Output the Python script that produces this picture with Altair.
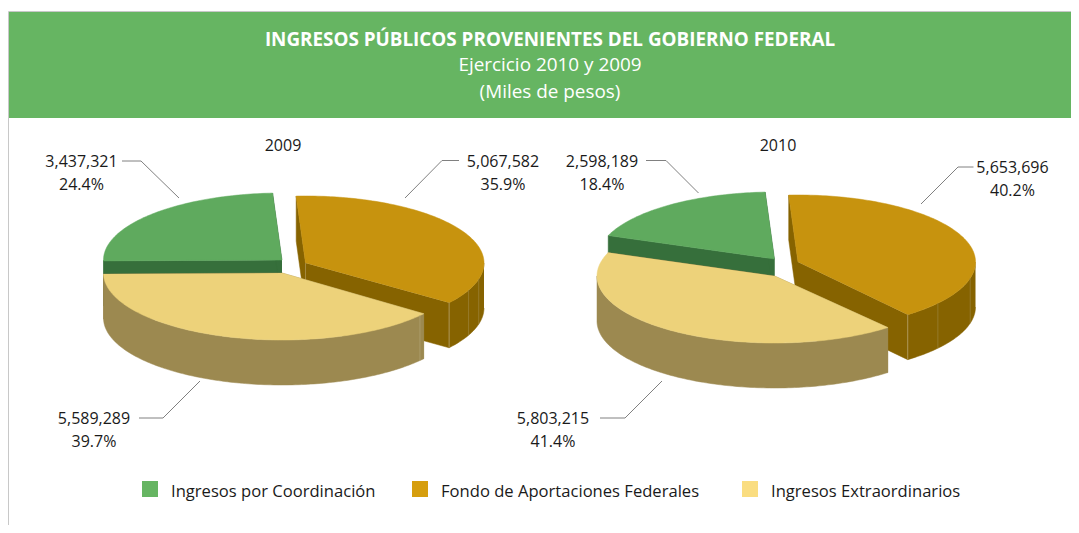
import math
import altair as alt
import pandas as pd

# ---- values ----
categories = ["Ingresos por Coordinación", "Fondo de Aportaciones Federales", "Ingresos Extraordinarios"]
years = ["2009", "2010"]
coordinacion = [3437321, 2598189]
fondo = [5067582, 5653696]
extraordinarios = [5589289, 5803215]
pct_coordinacion = ["24.4%", "18.4%"]
pct_fondo = ["35.9%", "40.2%"]
pct_extraordinarios = ["39.7%", "41.4%"]
title_lines = ["INGRESOS PÚBLICOS PROVENIENTES DEL GOBIERNO FEDERAL", "Ejercicio 2010 y 2009", "(Miles de pesos)"]

# ---- layout and style ----
FONT = "Open Sans"
W, H = 1063, 517
START = -3.0
DEPTH = 45
TRIM = [1.0, -1.5]
TOP = {"c": "#5FAA5E", "f": "#C7930E", "e": "#EDD27A"}
SIDE = {"c": "#366F3B", "f": "#866300", "e": "#9C8950"}
LEG = ["#66B562", "#D69E0E", "#FADD80"]
PIES = [
    {"c": (282, 260), "f": (305.5, 263), "e": (282, 273), "rx": 178.5, "ry": 67,
     "seams": [("f", 114, "#9A8034"), ("f", 104, "#9A8034"), ("e", 129.4, "#B0A070")]},
    {"c": (774.5, 259), "f": (798, 262), "e": (774.5, 276), "rx": 177.5, "ry": 67,
     "seams": [("f", 128, "#9A8034"), ("f", 104, "#9A8034")]},
]
X_LAB = [(81.5, 503, 94), (602, 1012.5, 553)]
Y_LAB = [(162, 162, 419), (162, 168, 419)]
LEADERS = [
    [[(122, 161), (141, 161), (179, 198)], [(459, 160.5), (442, 160.5), (405, 198)], [(200, 381), (163, 418), (139, 418)]],
    [[(646, 160.5), (666, 160.5), (698.5, 193)], [(973.5, 167), (958, 167), (921, 204)], [(662, 381), (625, 418), (600, 418)]],
]
TITLE_X = [283, 778]
LEG_X = [150, 420, 750]


def pt(cen, pie, deg):
    a = math.radians(deg)
    return cen[0] + pie["rx"] * math.sin(a), cen[1] - pie["ry"] * math.cos(a)


def arc(cen, pie, a0, a1):
    n = max(2, int(abs(a1 - a0)))
    return [pt(cen, pie, a0 + (a1 - a0) * i / n) for i in range(n + 1)]


rows, seams, texts = [], [], []
pid = 0


def poly(points, col):
    global pid
    pid += 1
    for i, (x, y) in enumerate(points):
        rows.append({"poly": pid, "seq": i, "x": x, "y": y, "col": col})


def down(p):
    return (p[0], p[1] + DEPTH)


for i, pie in enumerate(PIES):
    tot = fondo[i] + extraordinarios[i] + coordinacion[i]
    a_f = (START, START + 360 * fondo[i] / tot)
    a_e = (a_f[1] + TRIM[i], a_f[1] + 360 * extraordinarios[i] / tot)
    a_c = (a_e[1], START + 360)
    for key, (a0, a1) in (("f", a_f), ("c", a_c), ("e", a_e)):
        cen = pie[key]
        rim = arc(cen, pie, a0, a1)
        # two cut faces, then the front part of the outer wall, then the top face
        for end in (rim[0], rim[-1]):
            poly([cen, end, down(end), down(cen)], SIDE[key])
        f0, f1 = max(a0, 90), min(a1, 270)
        if f1 > f0:
            front = arc(cen, pie, f0, f1)
            poly(front + [down(p) for p in reversed(front)], SIDE[key])
        poly([cen] + rim, TOP[key])
        for k, ang, col in pie["seams"]:
            if k == key:
                p = pt(cen, pie, ang)
                seams.append({"s": len(seams), "seq": 0, "x": p[0], "y": p[1], "col": col})
                seams.append({"s": len(seams) - 1, "seq": 1, "x": p[0], "y": p[1] + DEPTH, "col": col})
    # corner seam of the gold wedge
    p = pt(pie["f"], pie, a_f[1])
    seams.append({"s": len(seams), "seq": 0, "x": p[0], "y": p[1], "col": "#B5A26A"})
    seams.append({"s": len(seams) - 1, "seq": 1, "x": p[0], "y": p[1] + DEPTH, "col": "#B5A26A"})

    texts.append({"x": TITLE_X[i], "y": 146, "t": years[i]})
    series = [(coordinacion, pct_coordinacion), (fondo, pct_fondo), (extraordinarios, pct_extraordinarios)]
    for j, (vals, pcts) in enumerate(series):
        texts.append({"x": X_LAB[i][j], "y": Y_LAB[i][j], "t": f"{vals[i]:,}"})
        texts.append({"x": X_LAB[i][j], "y": Y_LAB[i][j] + 23, "t": pcts[i]})

lead = []
for i, group in enumerate(LEADERS):
    for j, line in enumerate(group):
        for k, (x, y) in enumerate(line):
            lead.append({"l": f"{i}-{j}", "seq": k, "x": x, "y": y})

xs = alt.Scale(domain=[8, 8 + W], zero=False, nice=False)
ys = alt.Scale(domain=[8, 8 + H], zero=False, nice=False, reverse=True)
X = alt.X("x:Q", scale=xs, axis=None)
Y = alt.Y("y:Q", scale=ys, axis=None)

header = alt.Chart(pd.DataFrame([{"x": 8, "x2": 8 + W, "y": 12, "y2": 118}])).mark_rect(color="#66B562").encode(
    x=X, x2="x2:Q", y=Y, y2="y2:Q")
frame = alt.Chart(pd.DataFrame([
    {"l": "a", "seq": 0, "x": 8 + W, "y": 11.5}, {"l": "a", "seq": 1, "x": 8.5, "y": 11.5}, {"l": "a", "seq": 2, "x": 8.5, "y": 8 + H},
])).mark_line(color="#C8C8C8", strokeWidth=1).encode(x=X, y=Y, detail="l:N", order="seq:Q")

shapes = alt.Chart(pd.DataFrame(rows)).mark_line(strokeWidth=0.5, interpolate="linear").encode(
    x=X, y=Y, detail="poly:N", order="seq:Q",
    fill=alt.Fill("col:N", scale=None), stroke=alt.Stroke("col:N", scale=None))
seam_l = alt.Chart(pd.DataFrame(seams)).mark_line(strokeWidth=0.8).encode(
    x=X, y=Y, detail="s:N", order="seq:Q", stroke=alt.Stroke("col:N", scale=None))
leaders = alt.Chart(pd.DataFrame(lead)).mark_line(color="#808080", strokeWidth=1).encode(
    x=X, y=Y, detail="l:N", order="seq:Q")
labels = alt.Chart(pd.DataFrame(texts)).mark_text(font=FONT, fontSize=16, color="#1A1A1A", align="center", baseline="middle").encode(
    x=X, y=Y, text="t:N")

t1 = alt.Chart(pd.DataFrame([{"x": 550, "y": 40, "t": title_lines[0]}])).mark_text(
    font=FONT, fontSize=18.85, fontWeight="bold", color="white", baseline="middle").encode(x=X, y=Y, text="t:N")
t2 = alt.Chart(pd.DataFrame([{"x": 550, "y": 65, "t": title_lines[1]}, {"x": 550, "y": 92, "t": title_lines[2]}])).mark_text(
    font=FONT, fontSize=18.9, color="white", baseline="middle").encode(x=X, y=Y, text="t:N")

legend_df = pd.DataFrame({"x": LEG_X, "y": [489] * 3, "t": categories, "col": LEG})
leg_sq = alt.Chart(legend_df).mark_square(size=256, opacity=1).encode(x=X, y=Y, fill=alt.Fill("col:N", scale=None), stroke=alt.value(None))
leg_tx = alt.Chart(legend_df.assign(x=[v + 21 for v in LEG_X], y=[492] * 3)).mark_text(
    font=FONT, fontSize=16.6, color="#1A1A1A", align="left", baseline="middle").encode(x=X, y=Y, text="t:N")

chart = alt.layer(header, frame, shapes, seam_l, leaders, labels, t1, t2, leg_sq, leg_tx).properties(
    width=W, height=H, padding=0, autosize=alt.AutoSizeParams(type="none")
).configure_view(stroke=None)

chart.save("out.html", embed_options={"renderer": "svg", "actions": False})
